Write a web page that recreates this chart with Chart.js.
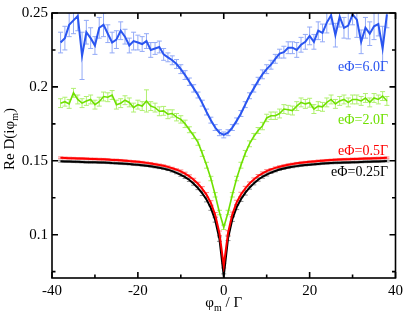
<!DOCTYPE html>
<html>
<head>
<meta charset="utf-8">
<script src="https://cdn.jsdelivr.net/npm/chart.js@4.4.1/dist/chart.umd.min.js"></script>
<style>
  html, body { margin: 0; padding: 0; background: #fff; }
  canvas { display: block; }
</style>
</head>
<body>
<canvas id="c" width="407" height="315"></canvas>
<script>
// Matsubara index phi_m / Gamma
const phi = [-38, -37, -36, -35, -34, -33, -32, -31, -30, -29, -28, -27, -26, -25, -24, -23, -22, -21, -20,
    -19, -18, -17, -16, -15, -14, -13, -12, -11, -10, -9, -8, -7, -6, -5, -4, -3, -2, -1, 0,
    1, 2, 3, 4, 5, 6, 7, 8, 9, 10, 11, 12, 13, 14, 15, 16, 17, 18, 19, 20,
    21, 22, 23, 24, 25, 26, 27, 28, 29, 30, 31, 32, 33, 34, 35, 36, 37, 38];

// eΦ = 6.0Γ
const d60 = [0.230, 0.233, 0.242, 0.245, 0.248, 0.221, 0.237, 0.233, 0.228, 0.240, 0.242, 0.236, 0.230, 0.232, 0.238, 0.234, 0.228, 0.231, 0.230,
    0.229, 0.231, 0.225, 0.226, 0.227, 0.222, 0.220, 0.218, 0.2155, 0.212, 0.208, 0.2035, 0.199, 0.1945, 0.189, 0.183, 0.1775, 0.1725, 0.169, 0.1675,
    0.169, 0.1725, 0.177, 0.182, 0.188, 0.194, 0.199, 0.204, 0.2085, 0.212, 0.215, 0.219, 0.2225, 0.2235, 0.2265, 0.2265, 0.225, 0.2285, 0.2305, 0.2345,
    0.2305, 0.238, 0.2365, 0.2435, 0.2485, 0.235, 0.2475, 0.240, 0.2415, 0.249, 0.2455, 0.2305, 0.240, 0.236, 0.241, 0.2425, 0.226, 0.249];
const e60 = [0.007, 0.008, 0.008, 0.009, 0.010, 0.016, 0.008, 0.007, 0.006, 0.007, 0.008, 0.006, 0.007, 0.006, 0.006, 0.005, 0.005, 0.006, 0.005,
    0.005, 0.005, 0.005, 0.004, 0.004, 0.004, 0.003, 0.003, 0.003, 0.003, 0.003, 0.0025, 0.0025, 0.002, 0.002, 0.002, 0.002, 0.002, 0.002, 0.002,
    0.002, 0.002, 0.002, 0.002, 0.002, 0.002, 0.0025, 0.0025, 0.003, 0.003, 0.003, 0.003, 0.003, 0.004, 0.004, 0.004, 0.005, 0.005, 0.005, 0.006,
    0.005, 0.006, 0.006, 0.007, 0.006, 0.008, 0.007, 0.007, 0.009, 0.007, 0.012, 0.008, 0.007, 0.008, 0.009, 0.008, 0.015, 0.009];

// eΦ = 2.0Γ
const d20 = [0.189, 0.190, 0.1885, 0.196, 0.1915, 0.189, 0.1905, 0.1915, 0.188, 0.190, 0.1935, 0.193, 0.1945, 0.188, 0.189, 0.191, 0.1895, 0.186, 0.188,
    0.187, 0.1905, 0.187, 0.186, 0.1835, 0.1838, 0.1815, 0.182, 0.1795, 0.178, 0.175, 0.171, 0.167, 0.1625, 0.155, 0.147, 0.138, 0.127, 0.115, 0.105,
    0.115, 0.127, 0.138, 0.147, 0.155, 0.1615, 0.1665, 0.1705, 0.1735, 0.179, 0.1805, 0.1805, 0.182, 0.185, 0.1845, 0.184, 0.187, 0.1895, 0.1885, 0.1893,
    0.185, 0.187, 0.1865, 0.1895, 0.1915, 0.1885, 0.1905, 0.1915, 0.1895, 0.1915, 0.1915, 0.1905, 0.1925, 0.1895, 0.1925, 0.1915, 0.1938, 0.1905];
const e20 = [0.003, 0.003, 0.003, 0.003, 0.003, 0.003, 0.003, 0.003, 0.003, 0.003, 0.003, 0.003, 0.003, 0.003, 0.003, 0.003, 0.003, 0.003, 0.003,
    0.003, 0.0075, 0.003, 0.003, 0.003, 0.003, 0.003, 0.0025, 0.0025, 0.0025, 0.0025, 0.002, 0.002, 0.002, 0.002, 0.002, 0.0015, 0.0015, 0.0015, 0.0015,
    0.0015, 0.0015, 0.0015, 0.002, 0.002, 0.002, 0.002, 0.002, 0.0025, 0.0025, 0.0025, 0.0025, 0.003, 0.003, 0.003, 0.003, 0.003, 0.003, 0.003, 0.003,
    0.003, 0.003, 0.003, 0.003, 0.003, 0.003, 0.003, 0.003, 0.003, 0.003, 0.003, 0.003, 0.003, 0.003, 0.003, 0.003, 0.003, 0.003];

// eΦ = 0.5Γ
const d05 = [0.152, 0.1519, 0.1518, 0.1517, 0.1516, 0.1515, 0.1514, 0.1513, 0.1512, 0.1511, 0.151, 0.1508, 0.1506, 0.1505, 0.1503, 0.1501, 0.1498, 0.1496, 0.1493,
    0.149, 0.1486, 0.1482, 0.1477, 0.1472, 0.1466, 0.1459, 0.145, 0.144, 0.1428, 0.1413, 0.1395, 0.1372, 0.1345, 0.131, 0.127, 0.1215, 0.1135, 0.101, 0.079,
    0.1012, 0.1138, 0.1218, 0.1272, 0.1312, 0.1347, 0.1374, 0.1397, 0.1415, 0.143, 0.1442, 0.1452, 0.146, 0.1467, 0.1473, 0.1478, 0.1483, 0.1487, 0.149, 0.1493,
    0.1496, 0.1499, 0.1501, 0.1503, 0.1505, 0.1507, 0.1509, 0.151, 0.1511, 0.1512, 0.1513, 0.1514, 0.1515, 0.1516, 0.1517, 0.1518, 0.1519, 0.152];
const e05 = [0.0006, 0.0006, 0.0006, 0.0006, 0.0006, 0.0006, 0.0006, 0.0006, 0.0006, 0.0006, 0.0006, 0.0006, 0.0006, 0.0006, 0.0006, 0.0006, 0.0006, 0.0006, 0.0006,
    0.0006, 0.0006, 0.0006, 0.0006, 0.0006, 0.0006, 0.0006, 0.0006, 0.0006, 0.001, 0.001, 0.001, 0.001, 0.001, 0.0015, 0.0015, 0.0015, 0.0015, 0.0015, 0.0015,
    0.0015, 0.0015, 0.0015, 0.0015, 0.0015, 0.001, 0.001, 0.001, 0.001, 0.001, 0.0006, 0.0006, 0.0006, 0.0006, 0.0006, 0.0006, 0.0006, 0.0006, 0.0006, 0.0006,
    0.0006, 0.0006, 0.0006, 0.0006, 0.0006, 0.0006, 0.0006, 0.0006, 0.0006, 0.0006, 0.0006, 0.0006, 0.0006, 0.0006, 0.0006, 0.0006, 0.0006, 0.0006];

// eΦ = 0.25Γ
const d025 = [0.1497, 0.1496, 0.1495, 0.1494, 0.1493, 0.1492, 0.1491, 0.149, 0.149, 0.1489, 0.1488, 0.1487, 0.1485, 0.1484, 0.1482, 0.148, 0.1478, 0.1475, 0.1473,
    0.147, 0.1467, 0.1463, 0.1458, 0.1453, 0.1447, 0.144, 0.143, 0.1418, 0.1405, 0.139, 0.137, 0.1345, 0.1315, 0.128, 0.1237, 0.118, 0.110, 0.097, 0.072,
    0.0975, 0.1105, 0.1185, 0.124, 0.1283, 0.1318, 0.1347, 0.1372, 0.1392, 0.1407, 0.142, 0.1431, 0.1441, 0.1448, 0.1454, 0.1459, 0.1464, 0.1468, 0.1471, 0.1474,
    0.1476, 0.1479, 0.1481, 0.1483, 0.1485, 0.1486, 0.1487, 0.1488, 0.1489, 0.149, 0.1491, 0.1492, 0.1493, 0.1494, 0.1495, 0.1496, 0.1497, 0.1498];
const e025 = e05;

const xMajor = [-40, -20, 0, 20, 40];
const xMinor = [-30, -10, 10, 30];
const yMajor = [0.1, 0.15, 0.2, 0.25];
const yMinor = [0.075, 0.125, 0.175, 0.225];

const SERIF = '"Liberation Serif", "Times New Roman", serif';
Chart.defaults.font.family = SERIF;
Chart.defaults.font.size = 15;
Chart.defaults.color = '#000';

function pts(ys) {
    return phi.map((x, i) => ({x: x, y: ys[i]}));
}

function series(ys, errs, color, errColor, width) {
    return {
        data: pts(ys), errs: errs, errColor: errColor,
        borderColor: color, borderWidth: width,
        showLine: true, pointRadius: 0, tension: 0
    };
}

// vertical error bars with small caps, under the lines
const errorBars = {
    id: 'errorBars',
    beforeDatasetsDraw(chart) {
        const {ctx, chartArea: a, scales: {x, y}} = chart;
        ctx.save();
        ctx.beginPath();
        ctx.rect(a.left, a.top, a.width, a.height);
        ctx.clip();
        ctx.lineWidth = 1;
        chart.data.datasets.forEach(ds => {
            ctx.strokeStyle = ds.errColor;
            ds.data.forEach((p, j) => {
                const e = ds.errs[j];
                const px = x.getPixelForValue(p.x);
                const lo = y.getPixelForValue(p.y - e);
                const hi = y.getPixelForValue(p.y + e);
                ctx.beginPath();
                ctx.moveTo(px, lo); ctx.lineTo(px, hi);
                ctx.moveTo(px - 2.5, lo); ctx.lineTo(px + 2.5, lo);
                ctx.moveTo(px - 2.5, hi); ctx.lineTo(px + 2.5, hi);
                ctx.stroke();
            });
        });
        ctx.restore();
    }
};

// box, inward ticks on all sides, titles and curve labels
const frame = {
    id: 'frame',
    afterDraw(chart) {
        const {ctx, chartArea: a, scales: {x, y}} = chart;
        ctx.save();
        ctx.strokeStyle = '#000';
        ctx.lineWidth = 1.6;
        ctx.strokeRect(a.left, a.top, a.width, a.height);
        const tick = (vals, len, horiz) => {
            vals.forEach(v => {
                ctx.beginPath();
                if (horiz) {
                    const px = x.getPixelForValue(v);
                    ctx.moveTo(px, a.bottom); ctx.lineTo(px, a.bottom - len);
                    ctx.moveTo(px, a.top); ctx.lineTo(px, a.top + len);
                } else {
                    const py = y.getPixelForValue(v);
                    ctx.moveTo(a.left, py); ctx.lineTo(a.left + len, py);
                    ctx.moveTo(a.right, py); ctx.lineTo(a.right - len, py);
                }
                ctx.stroke();
            });
        };
        tick(xMajor, 6, true);
        tick(xMinor, 3.5, true);
        tick(yMajor, 6, false);
        tick(yMinor, 3.5, false);

        // curve labels
        ctx.font = '14px ' + SERIF;
        ctx.textAlign = 'right';
        ctx.textBaseline = 'alphabetic';
        [['eΦ=6.0Γ', '#2a55f0', 71], ['eΦ=2.0Γ', '#6fe000', 124],
         ['eΦ=0.5Γ', '#ff0000', 155], ['eΦ=0.25Γ', '#000', 176]].forEach(([t, c, yy]) => {
            ctx.fillStyle = c;
            ctx.fillText(t, 388, yy);
        });

        // axis titles with subscript m
        ctx.fillStyle = '#000';
        ctx.textAlign = 'left';
        const big = '15px ' + SERIF, small = '10px ' + SERIF;
        const piece = (parts, x0, y0) => {
            let w = 0;
            parts.forEach(([t, sub]) => { ctx.font = sub ? small : big; w += ctx.measureText(t).width; });
            let cx = x0 - w / 2;
            parts.forEach(([t, sub]) => {
                ctx.font = sub ? small : big;
                ctx.fillText(t, cx, y0 + (sub ? 4 : 0));
                cx += ctx.measureText(t).width;
            });
        };
        piece([['φ', false], ['m', true], [' / Γ', false]], (a.left + a.right) / 2, 307);
        ctx.save();
        ctx.translate(14, 139);
        ctx.rotate(-Math.PI / 2);
        piece([['Re D(iφ', false], ['m', true], [')', false]], 0, 0);
        ctx.restore();
        ctx.restore();
    }
};

new Chart(document.getElementById('c'), {
    type: 'scatter',
    data: {
        datasets: [
            series(d60, e60, '#2a55f0', '#93aaf7', 2),
            series(d20, e20, '#6fe000', '#b0f070', 1.6),
            series(d05, e05, '#ff0000', '#ff8080', 2),
            series(d025, e025, '#000000', '#909090', 2)
        ]
    },
    options: {
        responsive: false,
        animation: false,
        devicePixelRatio: 1,
        layout: {padding: {top: 8, right: 10, left: 0, bottom: 0}},
        plugins: {legend: {display: false}, tooltip: {enabled: false}},
        scales: {
            x: {
                type: 'linear', position: 'bottom', min: -40, max: 40,
                grid: {display: false, drawTicks: false},
                border: {display: false},
                ticks: {padding: 4, maxRotation: 0, autoSkip: false, callback: v => String(v)},
                afterBuildTicks: s => { s.ticks = xMajor.map(v => ({value: v})); },
                afterFit: s => { s.height = 37; }
            },
            y: {
                type: 'linear', position: 'left', min: 0.0707, max: 0.25,
                grid: {display: false, drawTicks: false},
                border: {display: false},
                ticks: {padding: 4, autoSkip: false, callback: v => String(v)},
                afterBuildTicks: s => { s.ticks = yMajor.map(v => ({value: v})); },
                afterFit: s => { s.width = 52; }
            }
        }
    },
    plugins: [errorBars, frame]
});
</script>
</body>
</html>
